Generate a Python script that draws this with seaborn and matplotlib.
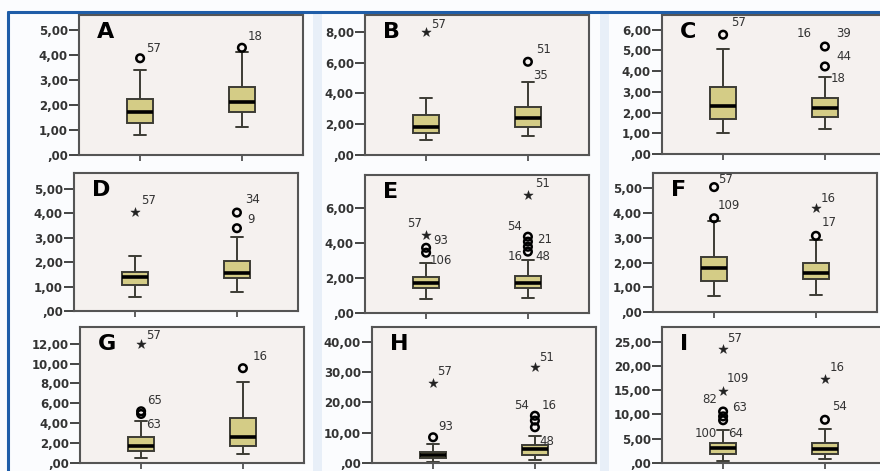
import numpy as np
import pandas as pd
import seaborn as sns
import matplotlib
matplotlib.use('Agg')
import matplotlib.pyplot as plt
from matplotlib.ticker import FuncFormatter
from matplotlib.patches import Rectangle
from matplotlib.lines import Line2D

# Panel names and five-number summaries (group 1, group 2)
panels = ['A', 'B', 'C', 'D', 'E', 'F', 'G', 'H', 'I']
whisker_low = [[0.80, 1.13], [0.97, 1.23], [1.00, 1.19], [0.59, 0.79], [0.78, 0.84],
               [0.65, 0.69], [0.50, 0.89], [0.30, 0.90], [0.40, 0.87]]
q1 = [[1.29, 1.73], [1.41, 1.84], [1.69, 1.77], [1.07, 1.34], [1.41, 1.41],
      [1.27, 1.32], [1.25, 1.71], [1.60, 2.50], [1.90, 1.90]]
median = [[1.73, 2.13], [1.84, 2.38], [2.29, 2.24], [1.41, 1.54], [1.73, 1.73],
          [1.77, 1.59], [1.71, 2.63], [2.50, 4.50], [3.10, 2.95]]
q3 = [[2.24, 2.71], [2.60, 3.10], [3.22, 2.72], [1.58, 2.06], [2.04, 2.13],
      [2.21, 2.00], [2.63, 4.53], [3.60, 6.00], [4.10, 4.20]]
whisker_high = [[3.40, 4.13], [3.72, 4.76], [5.06, 3.70], [2.25, 3.05], [2.84, 3.03],
                [3.66, 2.92], [4.27, 8.15], [6.30, 9.00], [6.70, 7.10]]

# Outliers (o) and extremes (*)
out_panel = ['A', 'A', 'B', 'B', 'C', 'C', 'C', 'D', 'D', 'D',
             'E', 'E', 'E', 'E', 'E', 'E', 'E', 'E', 'F', 'F', 'F', 'F',
             'G', 'G', 'G', 'G', 'H', 'H', 'H', 'H', 'H', 'H',
             'I', 'I', 'I', 'I', 'I', 'I', 'I']
out_group = [0, 1, 0, 1, 0, 1, 1, 0, 1, 1,
             0, 0, 0, 1, 1, 1, 1, 1, 0, 0, 1, 1,
             0, 0, 0, 1, 0, 0, 1, 1, 1, 1,
             0, 0, 0, 0, 0, 1, 1]
out_value = [3.87, 4.29, 8.00, 6.06, 5.75, 5.18, 4.22, 4.04, 4.03, 3.39,
             4.46, 3.71, 3.43, 6.74, 4.34, 4.06, 3.77, 3.49, 5.05, 3.79, 4.20, 3.08,
             12.0, 5.20, 4.93, 9.53, 26.5, 8.5, 31.8, 15.6, 14.0, 11.8,
             23.4, 14.8, 10.6, 9.6, 8.8, 17.2, 8.9]
out_kind = ['o', 'o', '*', 'o', 'o', 'o', 'o', '*', 'o', 'o',
            '*', 'o', 'o', '*', 'o', 'o', 'o', 'o', 'o', 'o', '*', 'o',
            '*', 'o', 'o', 'o', '*', 'o', '*', 'o', 'o', 'o',
            '*', '*', 'o', 'o', 'o', '*', 'o']

# Case labels next to outliers
lab_panel = ['A', 'A', 'B', 'B', 'B', 'C', 'C', 'C', 'C', 'C', 'D', 'D', 'D',
             'E', 'E', 'E', 'E', 'E', 'E', 'E', 'E', 'F', 'F', 'F', 'F',
             'G', 'G', 'G', 'G', 'H', 'H', 'H', 'H', 'H', 'H',
             'I', 'I', 'I', 'I', 'I', 'I', 'I', 'I']
lab_group = [0, 1, 0, 1, 1, 0, 1, 1, 1, 1, 0, 1, 1,
             0, 0, 0, 1, 1, 1, 1, 1, 0, 0, 1, 1,
             0, 0, 0, 1, 0, 0, 1, 1, 1, 1,
             0, 0, 0, 0, 0, 0, 1, 1]
lab_value = [3.87, 4.29, 8.00, 6.06, 6.06, 5.75, 5.18, 5.18, 5.18, 4.22, 4.04, 4.03, 4.03,
             4.46, 4.46, 3.43, 6.74, 4.34, 4.06, 3.49, 3.49, 5.05, 3.79, 4.20, 3.08,
             12.0, 5.20, 4.93, 9.53, 26.5, 8.5, 31.8, 15.6, 15.6, 11.8,
             23.4, 14.8, 10.6, 10.6, 8.8, 8.8, 17.2, 8.9]
lab_text = ['57', '18', '57', '51', '35', '57', '16', '39', '44', '18', '57', '34', '9',
            '57', '93', '106', '51', '54', '21', '16', '48', '57', '109', '16', '17',
            '57', '65', '63', '16', '57', '93', '51', '54', '16', '48',
            '57', '109', '82', '63', '100', '64', '16', '54']

# Y axis ticks per panel
y_tick_max = [5, 8, 6, 5, 6, 5, 12, 40, 25]
y_tick_step = [1, 2, 1, 1, 2, 1, 2, 10, 5]

# ---- layout / style (pixels of an 880x471 canvas) ----
W, H = 880, 471
ax_left = [79, 365, 662, 74, 365, 653, 80, 372, 662]
ax_top = [15, 15, 15, 173, 175, 173, 327, 327, 327]
ax_bottom = [155, 155, 154, 311, 313, 312, 463, 463, 463]
ax_width = 224
y_top = [5.6, 9.1, 6.7, 5.65, 7.85, 5.62, 13.67, 44.9, 28.0]
lab_offset = [(6, 10, 'left'), (6, 11, 'left'),
              (5, 7, 'left'), (8, 12, 'left'), (5, -14, 'left'),
              (8, 12, 'left'), (-13, 13, 'right'), (11, 13, 'left'), (11, -10, 'left'), (6, -12, 'left'),
              (6, 12, 'left'), (8, 13, 'left'), (10, -7, 'left'),
              (-4, 11, 'right'), (7, -6, 'left'), (4, -8, 'left'), (7, 11, 'left'),
              (-6, 10, 'right'), (9, 2, 'left'), (-5, -5, 'right'), (7, -5, 'left'),
              (4, 8, 'left'), (4, 13, 'left'), (5, 10, 'left'), (6, 13, 'left'),
              (5, 8, 'left'), (6, 11, 'left'), (5, -11, 'left'), (10, 12, 'left'),
              (4, 11, 'left'), (5, 11, 'left'), (4, 9, 'left'), (-6, 10, 'right'), (7, 10, 'left'), (4, -14, 'left'),
              (4, 11, 'left'), (4, 13, 'left'), (-6, 12, 'right'), (9, 4, 'left'), (-6, -13, 'right'),
              (5, -13, 'left'), (5, 12, 'left'), (7, 13, 'left')]

BOX_FILL = '#d4cc86'
EDGE = '#3c3c34'
PANEL_BG = '#f5f1ef'
TEXT = '#333333'

sns.set_theme(style='ticks')
plt.rcParams['font.family'] = ['DejaVu Sans']


def spss_fmt(v, pos):
    s = f'{v:.2f}'.replace('.', ',')
    if s.startswith('0,'):
        s = s[1:]
    return s


fig = plt.figure(figsize=(W / 100, H / 100), dpi=100)
fig.patch.set_facecolor('#fbfcfe')

# faint blue strips between chart columns, as in the screenshot
for sx in (313, 600):
    fig.add_artist(Rectangle((sx / W, 0), 9 / W, 1 - 12 / H, transform=fig.transFigure,
                             facecolor='#e8eff8', edgecolor='none', zorder=0))

for i, name in enumerate(panels):
    rect = [ax_left[i] / W, 1 - ax_bottom[i] / H, ax_width / W,
            (ax_bottom[i] - ax_top[i]) / H]
    ax = fig.add_axes(rect)
    ax.set_facecolor(PANEL_BG)

    # five values per group -> quartiles fall exactly on them
    vals, grp = [], []
    for g in range(2):
        five = [whisker_low[i][g], q1[i][g], median[i][g], q3[i][g], whisker_high[i][g]]
        vals += five
        grp += [g] * 5
    df = pd.DataFrame({'group': grp, 'value': vals})

    sns.boxplot(data=df, x='group', y='value', ax=ax, native_scale=True, orient='x',
                width=0.25, whis=(0, 100), showfliers=False, color=BOX_FILL,
                saturation=1, linecolor=EDGE, linewidth=1.4,
                medianprops=dict(color='black', linewidth=2.6))

    # outliers
    pts = pd.DataFrame({'panel': out_panel, 'group': out_group,
                        'value': out_value, 'kind': out_kind})
    pts = pts[pts['panel'] == name]
    circ = pts[pts['kind'] == 'o']
    star = pts[pts['kind'] == '*']
    if len(circ):
        sns.scatterplot(x=circ['group'], y=circ['value'], ax=ax, marker='o', s=30,
                        facecolor='none', edgecolor='black', linewidth=1.8, zorder=5)
    if len(star):
        sns.scatterplot(x=star['group'], y=star['value'], ax=ax, marker='*', s=50,
                        color='#222222', edgecolor='#222222', linewidth=0.3, zorder=5)

    # case labels
    for j in range(len(lab_text)):
        if lab_panel[j] != name:
            continue
        dx, dy, ha = lab_offset[j]
        ax.annotate(lab_text[j], xy=(lab_group[j], lab_value[j]), xytext=(dx, dy),
                    textcoords='offset pixels', ha=ha, va='center',
                    fontsize=8.5, color=TEXT, zorder=6)

    ax.text(18 / ax_width, 1 - 7 / (ax_bottom[i] - ax_top[i]), name,
            transform=ax.transAxes, ha='left', va='top', fontsize=16,
            fontweight='bold', color='black')

    ax.set_xlim(-0.6, 1.6)
    ax.set_ylim(0, y_top[i])
    ax.set_xticks([0, 1])
    ax.set_xticklabels(['', ''])
    ax.set_yticks(np.arange(0, y_tick_max[i] + 0.01, y_tick_step[i]))
    ax.yaxis.set_major_formatter(FuncFormatter(spss_fmt))
    ax.set_xlabel('')
    ax.set_ylabel('')
    ax.tick_params(axis='y', direction='out', length=7, width=1.4, color='#444444',
                   labelsize=8.5, labelcolor=TEXT, pad=1)
    ax.tick_params(axis='x', direction='out', length=4, width=1.2, color='#444444')
    for lab in ax.get_yticklabels():
        lab.set_fontweight('bold')
    for sp in ax.spines.values():
        sp.set_visible(True)
        sp.set_color('#555555')
        sp.set_linewidth(1.5)

# blue frame of the output window
fig.add_artist(Line2D([8 / W, 1], [1 - 12 / H, 1 - 12 / H], transform=fig.transFigure,
                      color='#1f5da8', linewidth=2.2))
fig.add_artist(Line2D([8 / W, 8 / W], [0, 1 - 12 / H], transform=fig.transFigure,
                      color='#1f5da8', linewidth=2.2))

fig.savefig('out.png', dpi=100)
